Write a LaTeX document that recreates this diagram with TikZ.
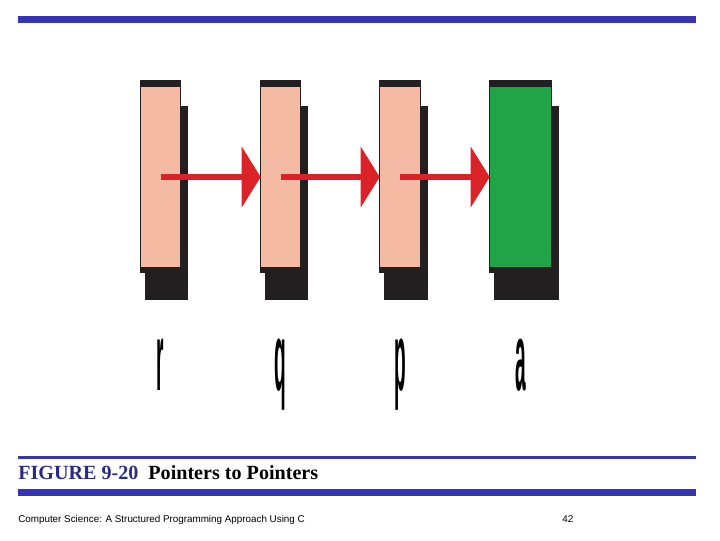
\documentclass[tikz,border=0pt]{standalone}
\usepackage{fontspec}
\setmainfont{Liberation Serif}
\setsansfont{Liberation Sans}
\usetikzlibrary{arrows.meta}
\definecolor{band}{RGB}{52,52,180}
\definecolor{navy}{RGB}{42,42,130}
\definecolor{skin}{RGB}{244,186,164}
\definecolor{leaf}{RGB}{33,163,71}
\definecolor{ink}{RGB}{35,31,32}
\definecolor{arrowred}{RGB}{218,34,40}
\begin{document}
\begin{tikzpicture}[x=0.025cm,y=-0.025cm,
   cell/.style={inner sep=0pt,minimum height=4.5cm},
   link/.style={line width=0.1625cm,draw=arrowred,-{Triangle[length=0.475cm,width=1.5cm]}},
   tag/.style={anchor=base,inner sep=0pt,font=\sffamily\bfseries\fontsize{68}{68}\selectfont},
   txt/.style={anchor=base west,inner sep=0pt}]
   \useasboundingbox (0,0) rectangle (720,540);
   % полосы
   \fill[band] (18,16) rectangle (696,22.5);
   \fill[band] (18,456) rectangle (696,459);
   \fill[band] (18,489) rectangle (696,495.5);
   % ячейки с тенью
   \foreach \n/\l/\w/\c in {r/140/41/skin,q/260/41/skin,p/379/42/skin,a/489/63/leaf}{
      \fill[ink] (\l+5,106) rectangle (\l+\w+7,300);
      \fill[ink] (\l,80) rectangle (\l+\w,273);
      \node[cell,fill=\c,minimum width={(\w-2)*0.025cm}] (\n) at (\l+\w/2,177) {};
      \node[tag] (\n lbl) at (\l+\w/2,390) {\scalebox{0.2}[1]{\n}};
   }
   % указатели
   \draw[link] (r.center) -- (q.west);
   \draw[link] (q.center) -- (p.west);
   \draw[link] (p.center) -- (a.west);
   %
   \node[txt,font=\bfseries\fontsize{14.3}{16}\selectfont] (cap) at (18,479)
      {\textcolor{navy}{FIGURE 9-20}~ Pointers to Pointers};
   \node[txt,font=\sffamily\fontsize{7}{9}\selectfont] (foot) at (18,522)
      {Computer Science: A Structured Programming Approach Using C};
   \node[txt,font=\sffamily\fontsize{7}{9}\selectfont] (page) at (562,522) {42};
\end{tikzpicture}
\end{document}
